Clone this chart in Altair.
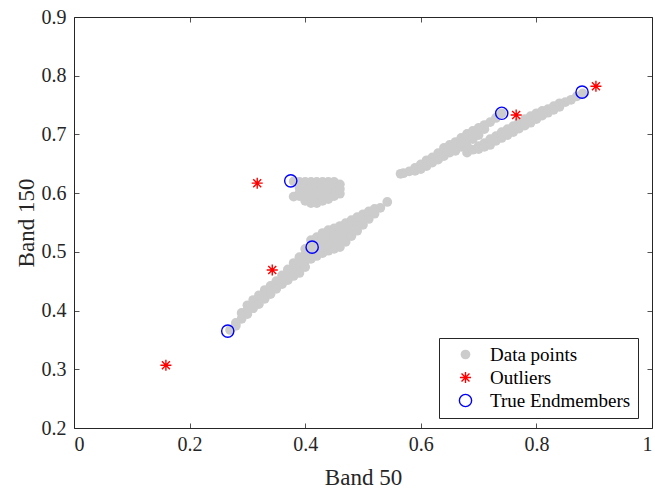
import altair as alt
import pandas as pd

# ---- gray data points, read column by column (x -> list of y values) ----
lower_band = {
    0.27: [0.367],
    0.28: [0.379, 0.374],
    0.29: [0.396, 0.386],
    0.30: [0.409, 0.401, 0.394],
    0.31: [0.418, 0.411, 0.404],
    0.32: [0.426, 0.418, 0.411],
    0.33: [0.435, 0.427, 0.420],
    0.34: [0.442, 0.435, 0.428],
    0.35: [0.450, 0.443, 0.437],
    0.36: [0.460, 0.452, 0.445],
    0.37: [0.470, 0.461, 0.452],
    0.38: [0.481, 0.470, 0.459],
    0.39: [0.491, 0.482, 0.473, 0.464],
    0.40: [0.505, 0.495, 0.484, 0.474],
    0.41: [0.520, 0.509, 0.499, 0.488],
    0.42: [0.525, 0.514, 0.504, 0.493],
    0.43: [0.532, 0.521, 0.509, 0.498],
    0.44: [0.537, 0.525, 0.514, 0.502],
    0.45: [0.540, 0.528, 0.517, 0.505],
    0.46: [0.544, 0.532, 0.520, 0.508],
    0.47: [0.549, 0.538, 0.528, 0.517],
    0.48: [0.554, 0.545, 0.536, 0.527],
    0.49: [0.559, 0.551, 0.544, 0.536],
    0.50: [0.564, 0.555, 0.546],
    0.51: [0.569, 0.562, 0.556],
    0.52: [0.573, 0.565],
    0.53: [0.575],
    0.542: [0.585],
}

flag_cluster = {
    0.38: [0.620, 0.594],
    0.39: [0.619, 0.609, 0.600, 0.595],
    0.40: [0.619, 0.610, 0.601, 0.593, 0.587],
    0.41: [0.619, 0.610, 0.601, 0.592, 0.583],
    0.42: [0.619, 0.610, 0.601, 0.592, 0.583],
    0.43: [0.619, 0.610, 0.601, 0.593, 0.587],
    0.44: [0.619, 0.610, 0.600, 0.590],
    0.45: [0.619, 0.609, 0.600, 0.595],
    0.46: [0.615, 0.607, 0.599],
}

upper_band_a = {
    0.565: [0.633],
    0.57: [0.634],
    0.58: [0.637],
    0.59: [0.643, 0.638],
    0.60: [0.649, 0.641],
    0.61: [0.656, 0.646],
    0.62: [0.661, 0.652],
    0.63: [0.668, 0.657],
    0.64: [0.677, 0.670, 0.663],
    0.65: [0.682, 0.676, 0.669],
    0.66: [0.687, 0.680, 0.672],
    0.67: [0.694, 0.686, 0.679],
    0.68: [0.701, 0.691, 0.680, 0.669],
    0.69: [0.706, 0.699, 0.692],
    0.70: [0.711, 0.704, 0.699],
    0.71: [0.716, 0.709],
    0.72: [0.721],
    0.73: [0.728],
    0.74: [0.736],
}

upper_band_b = {
    0.69: [0.674],
    0.70: [0.680, 0.675],
    0.71: [0.685, 0.679],
    0.72: [0.692, 0.682],
    0.73: [0.697, 0.689],
    0.74: [0.704, 0.694],
    0.75: [0.709, 0.699],
    0.76: [0.714, 0.704],
    0.77: [0.721, 0.710],
    0.78: [0.726, 0.715],
    0.79: [0.731, 0.720],
    0.80: [0.736, 0.726],
    0.81: [0.740, 0.732],
    0.82: [0.743, 0.737],
    0.83: [0.748, 0.742],
    0.84: [0.753, 0.747],
    0.85: [0.755],
    0.86: [0.759],
    0.87: [0.765],
    0.88: [0.770],
}

outlier_x = [0.159, 0.317, 0.343, 0.765, 0.903]
outlier_y = [0.307, 0.617, 0.469, 0.733, 0.782]

endmember_x = [0.266, 0.375, 0.412, 0.740, 0.879]
endmember_y = [0.365, 0.621, 0.508, 0.736, 0.772]

series = ["Data points", "Outliers", "True Endmembers"]
x_ticks = [0, 0.2, 0.4, 0.6, 0.8, 1]
y_ticks = [0.2, 0.3, 0.4, 0.5, 0.6, 0.7, 0.8, 0.9]

rows = []
for cluster in (lower_band, flag_cluster, upper_band_a, upper_band_b):
    for xv, ys in cluster.items():
        for yv in ys:
            rows.append({"x": xv, "y": yv, "series": series[0]})
for xv, yv in zip(endmember_x, endmember_y):
    rows.append({"x": xv, "y": yv, "series": series[2]})
for xv, yv in zip(outlier_x, outlier_y):
    rows.append({"x": xv, "y": yv, "series": series[1]})
df = pd.DataFrame(rows)

ASTERISK = "M0,-1L0,1M-1,0L1,0M-0.72,-0.72L0.72,0.72M-0.72,0.72L0.72,-0.72"
FONT = "Liberation Serif"
INK = "#262626"

chart = alt.Chart(df).mark_point(opacity=1, strokeWidth=1.4).encode(
    x=alt.X("x:Q",
            scale=alt.Scale(domain=[0, 1], nice=False, zero=False),
            axis=alt.Axis(values=x_ticks, format="~g", title="Band 50",
                          ticks=False, domain=False, grid=True,
                          gridDash=[5, 401, 5, 1000], gridColor=INK, gridWidth=0.8,
                          labelPadding=6, titlePadding=12)),
    y=alt.Y("y:Q",
            scale=alt.Scale(domain=[0.2, 0.9], nice=False, zero=False),
            axis=alt.Axis(values=y_ticks, format=".1f", title="Band 150",
                          ticks=False, domain=False, grid=True,
                          gridDash=[5, 568, 5, 1000], gridColor=INK, gridWidth=0.8,
                          labelPadding=8, titlePadding=3)),
    fill=alt.Fill("series:N",
                  scale=alt.Scale(domain=series, range=["#cccccc", "transparent", "transparent"]),
                  legend=alt.Legend(title=None)),
    stroke=alt.Stroke("series:N",
                      scale=alt.Scale(domain=series, range=["transparent", "#ff0000", "#0000ff"]),
                      legend=alt.Legend(title=None)),
    shape=alt.Shape("series:N",
                    scale=alt.Scale(domain=series, range=["circle", ASTERISK, "circle"]),
                    legend=alt.Legend(title=None)),
    size=alt.Size("series:N",
                  scale=alt.Scale(domain=series, range=[95, 150, 130]),
                  legend=alt.Legend(title=None)),
).properties(
    width=578, height=411,
    autosize=alt.AutoSizeParams(type="none"),
    padding={"left": 74, "top": 17, "right": 3, "bottom": 61},
).configure_view(
    stroke=INK, strokeWidth=1
).configure_axis(
    labelFont=FONT, titleFont=FONT, labelFontSize=20, titleFontSize=23,
    titleFontWeight="normal", labelColor=INK, titleColor=INK,
).configure_legend(
    orient="none", legendX=365, legendY=321,
    fillColor="white", strokeColor=INK, strokeWidth=1,
    padding=7, labelFont=FONT, labelFontSize=19, labelColor="black",
    rowPadding=3, symbolStrokeWidth=1.4, labelOffset=15, symbolOffset=10,
)

chart.save("out.html", embed_options={"renderer": "svg", "actions": False})
